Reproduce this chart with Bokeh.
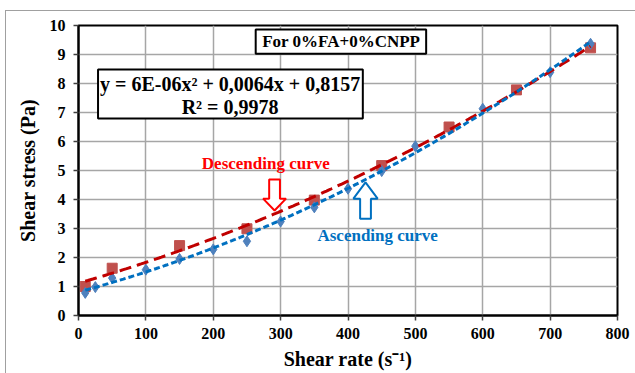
import numpy as np
from bokeh.plotting import figure
from bokeh.models import Label, BoxAnnotation, FixedTicker
from bokeh.embed import file_html
from bokeh.resources import INLINE

# Ascending sweep (blue diamonds)
asc_rate = [10, 25, 50, 100, 150, 200, 250, 300, 350, 400, 450, 500, 600, 700, 760]
asc_stress = [0.78, 0.98, 1.29, 1.58, 1.95, 2.28, 2.56, 3.24, 3.73, 4.37, 4.98, 5.84, 7.13, 8.39, 9.37]

# Descending sweep (red squares)
desc_rate = [10, 50, 150, 250, 350, 450, 550, 650, 760]
desc_stress = [1.00, 1.63, 2.41, 2.99, 3.98, 5.17, 6.50, 7.78, 9.23]

x_ticks = [0, 100, 200, 300, 400, 500, 600, 700, 800]
y_ticks = [0, 1, 2, 3, 4, 5, 6, 7, 8, 9, 10]

title_text = "For 0%FA+0%CNPP"
eq_line1 = "y = 6E-06x\u00b2 + 0,0064x + 0,8157"
eq_line2 = "R\u00b2 = 0,9978"

FONT = "'Liberation Serif', serif"

p = figure(frame_width=539, frame_height=290,
           min_border_left=72, min_border_right=18,
           min_border_top=14, min_border_bottom=58,
           x_range=(0, 800), y_range=(0, 10),
           output_backend="svg", toolbar_location=None)
p.styles = {"margin-left": "5px", "margin-top": "10px",
            "border-left": "1px solid #a0a0a0", "border-top": "1px solid #a0a0a0"}

p.background_fill_color = "white"
p.border_fill_color = "white"
p.outline_line_color = "black"
p.outline_line_width = 2

for ax in (p.xaxis[0], p.yaxis[0]):
    ax.axis_line_color = "black"
    ax.axis_line_width = 2
    ax.major_tick_line_color = "#404040"
    ax.major_tick_line_width = 1.5
    ax.major_tick_out = 5
    ax.major_tick_in = 0
    ax.minor_tick_line_color = None
    ax.major_label_text_font = FONT
    ax.major_label_text_font_style = "bold"
    ax.major_label_text_font_size = "16px"
    ax.major_label_text_color = "black"
    ax.axis_label_text_font = FONT
    ax.axis_label_text_font_style = "bold"
    ax.axis_label_text_font_size = "20px"
    ax.axis_label_text_color = "black"

p.xaxis.ticker = FixedTicker(ticks=x_ticks)
p.yaxis.ticker = FixedTicker(ticks=y_ticks)
p.xaxis.axis_label = "Shear rate (s\u207b\u00b9)"
p.yaxis.axis_label = "Shear stress (Pa)"
p.xaxis.major_label_standoff = 7
p.yaxis.major_label_standoff = 8
p.xaxis.axis_label_standoff = 6
p.yaxis.axis_label_standoff = 8

p.xgrid.ticker = FixedTicker(ticks=x_ticks)
p.ygrid.ticker = FixedTicker(ticks=y_ticks)
p.grid.grid_line_color = "#a6a6a6"
p.grid.grid_line_width = 1.5

# Second-order polynomial trendlines of each sweep
xa = np.linspace(min(asc_rate), max(asc_rate), 200)
xd = np.linspace(min(desc_rate), max(desc_rate), 200)
ca = np.polyfit(asc_rate, asc_stress, 2)
cd = np.polyfit(desc_rate, desc_stress, 2)

p.scatter(desc_rate, desc_stress, marker="square", size=10,
          fill_color="#C0504D", line_color="#C0504D")
p.scatter(asc_rate, asc_stress, marker="diamond", size=11,
          fill_color="#4F81BD", line_color="#4F81BD")
p.line(xd, np.polyval(cd, xd), line_color="#C00000", line_width=3, line_dash="12 6")
p.line(xa, np.polyval(ca, xa), line_color="#0070C0", line_width=3, line_dash="6 3")

# Caption boxes
p.add_layout(BoxAnnotation(left=263, right=516, bottom=9.03, top=9.86,
                           fill_color="white", fill_alpha=1,
                           line_color="black", line_alpha=1, line_width=2))
p.add_layout(BoxAnnotation(left=29, right=422, bottom=6.79, top=8.48,
                           fill_color="white", fill_alpha=1,
                           line_color="black", line_alpha=1, line_width=2))

def label(x, y, text, size, color="black"):
    p.add_layout(Label(x=x, y=y, text=text, text_font=FONT, text_font_style="bold",
                       text_font_size=size, text_color=color,
                       text_align="center", text_baseline="middle"))

label(390, 9.45, title_text, "17px")
label(225, 8.0, eq_line1, "20px")
label(225, 7.18, eq_line2, "20px")
label(278, 5.24, "Descending curve", "17px", "#FF0000")
label(444, 2.76, "Ascending curve", "17px", "#0070C0")

# Hollow block arrows pointing at each curve
def block_arrow(cx, y_tail, y_head, y_tip, half_shaft, half_head, color):
    xs = [cx - half_shaft, cx + half_shaft, cx + half_shaft, cx + half_head, cx,
          cx - half_head, cx - half_shaft]
    ys = [y_tail, y_tail, y_head, y_head, y_tip, y_head, y_head]
    p.patch(xs, ys, fill_color="white", line_color=color, line_width=2)

block_arrow(291, 4.69, 4.03, 3.62, 8, 17, "#FF0000")
block_arrow(426, 3.34, 4.03, 4.59, 8, 18, "#0070C0")

open("out.html", "w").write(file_html(p, INLINE))
